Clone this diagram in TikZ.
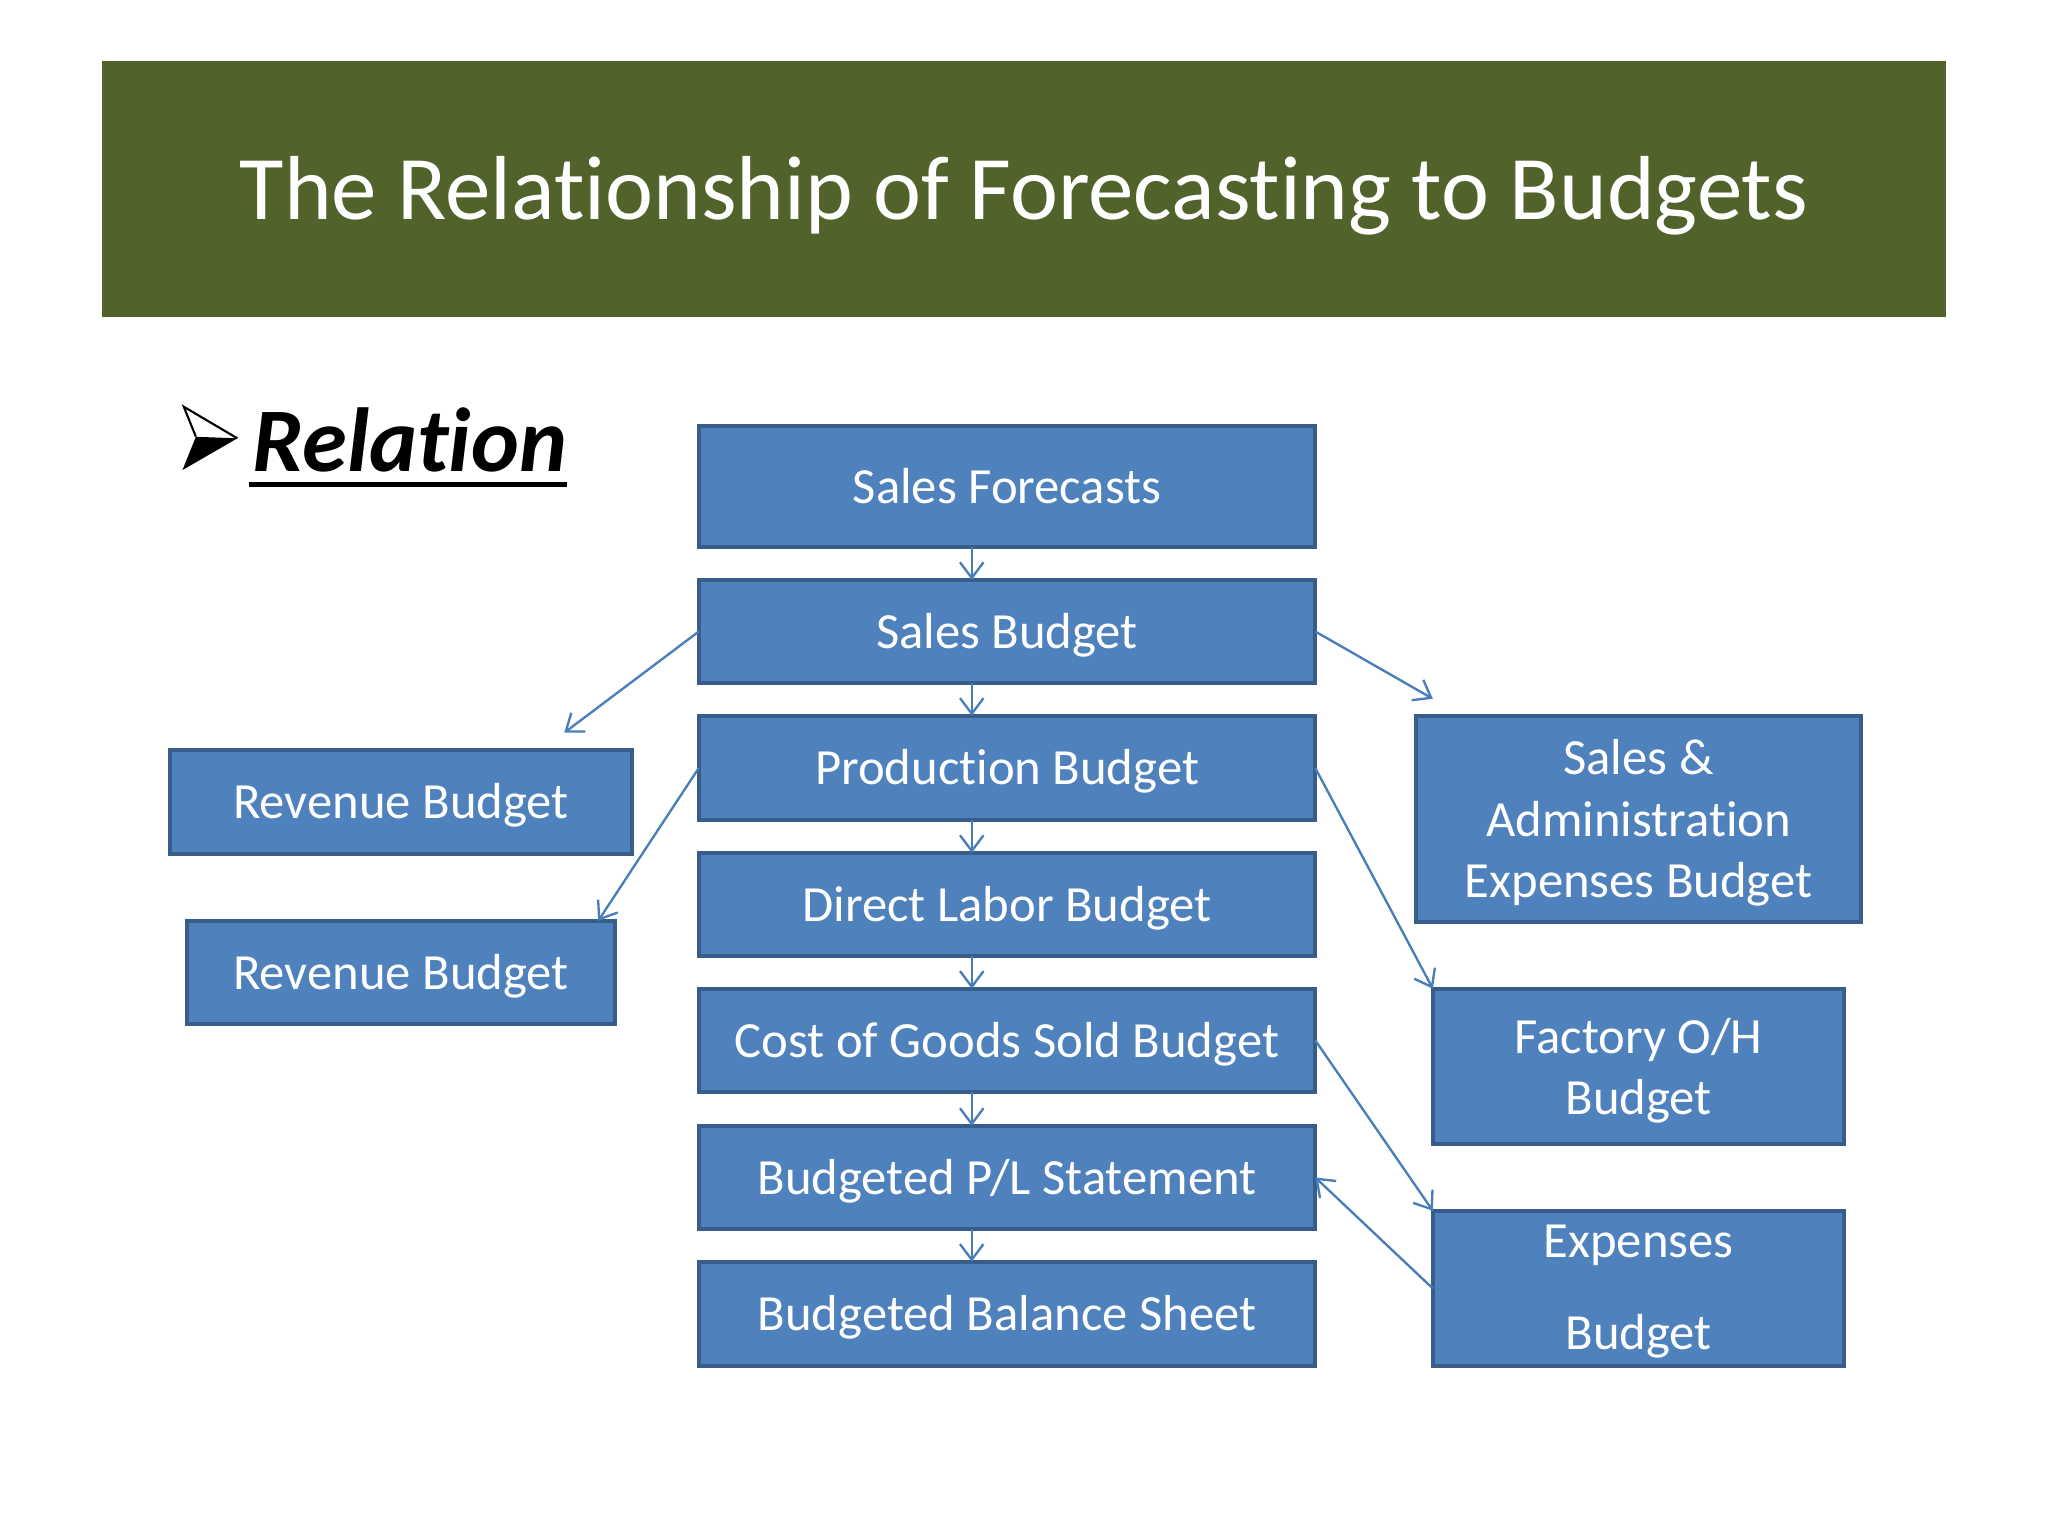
\documentclass[tikz,border=0pt]{standalone}
\usepackage{fontspec}
\setmainfont{Carlito}[Ligatures=NoCommon]
\usetikzlibrary{arrows.meta}
\definecolor{titlegreen}{HTML}{52622B}
\definecolor{boxfill}{HTML}{4F81BD}
\definecolor{boxline}{HTML}{385D8A}
\definecolor{arrowblue}{HTML}{4A7EBB}
\begin{document}
\begin{tikzpicture}[x=0.5pt,y=-0.5pt,
  bx/.style={draw=boxline, fill=boxfill, line width=1.6pt, text=white, inner sep=0pt, outer sep=0pt,
    align=center, text height=16pt, text depth=3pt, font=\fontsize{19.4}{23.5}\selectfont},
  bxtext/.style={text=white, inner sep=0pt, align=center, font=\fontsize{19.4}{23.5}\selectfont},
  arr/.style={draw=arrowblue, line width=0.9pt, -{Straight Barb[length=6pt,width=9pt]}}]
\useasboundingbox[fill=white] (0,0) rectangle (1568,1176);
% title bar
\node[fill=titlegreen, minimum width=706pt, minimum height=98pt, inner sep=0pt, text=white,
  text height=27pt, text depth=4pt,
  font=\fontsize{34.8}{40}\selectfont] (title) at (784,145) {The Relationship of Forecasting to Budgets};
% bullet and heading
\fill (150,334.4) -- (181.7,335.6) -- (139.7,359.9) -- cycle;
\draw[line width=0.8pt, line join=miter] (150,334.4) -- (140.7,311.4) -- (181.7,335.6);
\node[anchor=base west, inner sep=0pt, font=\fontsize{34.8}{40}\selectfont\bfseries\itshape] (rel) at (193,361) {Relation};
\draw[line width=1.75pt] (191,371) -- (434,371);
% centre column
\node[bx, minimum width=236pt, minimum height=46.5pt] (sf) at (771,372.5) {Sales Forecasts};
\node[bx, minimum width=236pt, minimum height=39.5pt] (sb) at (771,483.5) {Sales Budget};
\node[bx, minimum width=236pt, minimum height=40pt] (pb) at (771,588) {Production Budget};
\node[bx, minimum width=236pt, minimum height=39.5pt] (dl) at (771,692.5) {Direct Labor Budget};
\node[bx, minimum width=236pt, minimum height=39.5pt] (cg) at (771,796.5) {Cost of Goods Sold Budget};
\node[bx, minimum width=236pt, minimum height=39.5pt] (pl) at (771,901.5) {Budgeted P/L Statement};
\node[bx, minimum width=236pt, minimum height=40pt] (bs) at (771,1006) {Budgeted Balance Sheet};
% left column
\node[bx, minimum width=177pt, minimum height=40pt] (rv1) at (307,614) {Revenue Budget};
\node[bx, minimum width=164pt, minimum height=39.5pt] (rv2) at (307,744.5) {Revenue Budget};
% right column (boxes, then their multi-line texts)
\node[bx, minimum width=170.5pt, minimum height=79pt] (sa) at (1254.5,627) {};
\node[bx, minimum width=157.5pt, minimum height=59.5pt] (fo) at (1254.5,816.5) {};
\node[bx, minimum width=157.5pt, minimum height=59.5pt] (ex) at (1254.5,986.5) {};
\node[bxtext] (sat) at ([yshift=-1.6pt]sa.center) {Sales \&\\Administration\\Expenses Budget};
\node[bxtext] (fot) at ([yshift=-1.6pt]fo.center) {Factory O/H\\Budget};
\node[bxtext] (ext) at ([yshift=-1.2pt]ex.center) {Expenses\\[11.5pt]Budget};
% vertical arrows
\foreach \a/\b in {sf/sb, sb/pb, pb/dl, dl/cg, cg/pl, pl/bs}
  \draw[arr] ([xshift=-13.5pt]\a.south) -- ([xshift=-13.5pt]\b.north);
% free ends
\coordinate (lfree) at (432,561);
\coordinate (rfree) at (1097,535);
% diagonal arrows
\draw[arr] (sb.west) -- (lfree);
\draw[arr] (pb.west) -- ([xshift=-6.5pt]rv2.north east);
\draw[arr] (sb.east) -- (rfree);
\draw[arr] (pb.east) -- (fo.north west);
\draw[arr] (cg.east) -- (ex.north west);
\draw[arr] (ex.west) -- (pl.east);
\end{tikzpicture}
\end{document}
